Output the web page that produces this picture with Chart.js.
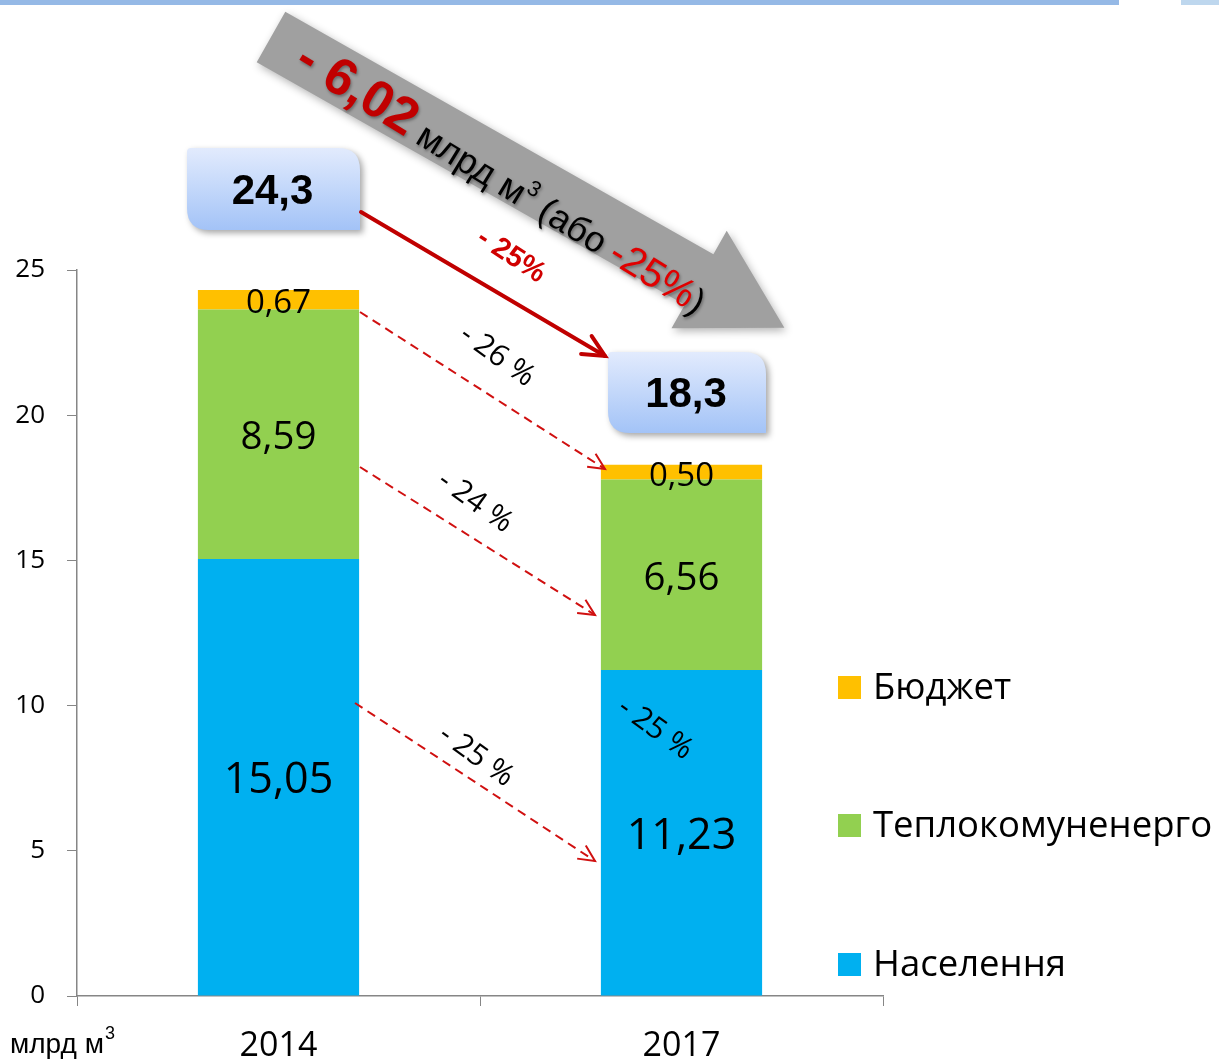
<!DOCTYPE html>
<html lang="uk">
<head>
<meta charset="UTF-8">
<title>Споживання газу</title>
<script src="https://cdn.jsdelivr.net/npm/chart.js"></script>
<style>
    body { margin: 0; background: #fff; }
    #wrap { width: 1219px; height: 1060px; position: relative; }
</style>
</head>
<body>
<div id="wrap"><canvas id="gasChart" width="1219" height="1060"></canvas></div>
<script>
    // data
    const years = ['2014', '2017'];
    const naselennya = [15.05, 11.23];
    const teplo = [8.59, 6.56];
    const budget = [0.67, 0.50];
    const totalLabels = ['24,3', '18,3'];
    const seriesNames = ['Населення', 'Теплокомуненерго', 'Бюджет'];
    const seriesColors = ['#00b0f0', '#92d050', '#ffc000'];

    const FONT = '"Open Sans", sans-serif';
    const SANS = '"Liberation Sans", Arial, sans-serif';
    const RED = '#c00000';

    function fmt(v) {
        return v.toFixed(2).replace('.', ',');
    }

    function arrowHead(ctx, x1, y1, x2, y2, len, spread) {
        const a = Math.atan2(y2 - y1, x2 - x1);
        ctx.beginPath();
        ctx.moveTo(x2 - len * Math.cos(a - spread), y2 - len * Math.sin(a - spread));
        ctx.lineTo(x2, y2);
        ctx.lineTo(x2 - len * Math.cos(a + spread), y2 - len * Math.sin(a + spread));
        ctx.stroke();
    }

    function rotatedText(ctx, text, x, y, angle, font, color) {
        ctx.save();
        ctx.translate(x, y);
        ctx.rotate(angle);
        ctx.font = font;
        ctx.fillStyle = color;
        ctx.textAlign = 'center';
        ctx.textBaseline = 'middle';
        ctx.fillText(text, 0, 0);
        ctx.restore();
    }

    function totalBox(ctx, x, y, w, h, text) {
        const r = 22, s = 4;
        ctx.save();
        ctx.shadowColor = 'rgba(0,0,0,0.35)';
        ctx.shadowBlur = 6;
        ctx.shadowOffsetX = 3;
        ctx.shadowOffsetY = 3;
        const g = ctx.createLinearGradient(0, y, 0, y + h);
        g.addColorStop(0, '#e2ebfd');
        g.addColorStop(1, '#a3c3f7');
        ctx.fillStyle = g;
        ctx.beginPath();
        ctx.moveTo(x + s, y);
        ctx.lineTo(x + w - r, y);
        ctx.quadraticCurveTo(x + w, y, x + w, y + r);
        ctx.lineTo(x + w, y + h);
        ctx.lineTo(x + r, y + h);
        ctx.quadraticCurveTo(x, y + h, x, y + h - r);
        ctx.lineTo(x, y + s);
        ctx.quadraticCurveTo(x, y, x + s, y);
        ctx.closePath();
        ctx.fill();
        ctx.restore();
        ctx.font = 'bold 42px ' + SANS;
        ctx.fillStyle = '#000';
        ctx.textAlign = 'center';
        ctx.textBaseline = 'middle';
        ctx.fillText(text, x + w / 2 - 1, y + h / 2 + 3);
    }

    const decorPlugin = {
        id: 'decor',
        beforeDraw(chart) {
            const ctx = chart.ctx;
            ctx.save();
            // top band of the slide
            ctx.fillStyle = '#95b9e6';
            ctx.fillRect(0, 0, 1119, 5);
            ctx.fillStyle = '#bed7ee';
            ctx.fillRect(1181, 0, 38, 5);

            // big grey arrow
            ctx.save();
            ctx.translate(271, 37);
            ctx.rotate(Math.atan2(290, 512));
            ctx.shadowColor = 'rgba(0,0,0,0.3)';
            ctx.shadowBlur = 8;
            ctx.shadowOffsetX = 2;
            ctx.shadowOffsetY = 3;
            ctx.fillStyle = '#a0a0a0';
            ctx.beginPath();
            ctx.moveTo(0, -29);
            ctx.lineTo(492, -29);
            ctx.lineTo(492, -56);
            ctx.lineTo(590, 0);
            ctx.lineTo(492, 56);
            ctx.lineTo(492, 29);
            ctx.lineTo(0, 29);
            ctx.closePath();
            ctx.fill();

            ctx.shadowColor = 'rgba(0,0,0,0.35)';
            ctx.shadowBlur = 3;
            ctx.shadowOffsetX = 1;
            ctx.shadowOffsetY = 2;
            ctx.rotate(0.035);
            ctx.textBaseline = 'alphabetic';
            ctx.textAlign = 'left';
            let x = 34;
            const base = 15;
            const parts = [
                ['bold 52px ' + SANS, RED, '- 6,02', 0],
                ['36px ' + SANS, '#000', ' млрд м', 0],
                ['22px ' + SANS, '#000', '3', -16],
                ['36px ' + SANS, '#000', ' (або ', 0],
                ['40px ' + SANS, '#e00000', '-25%', 0],
                ['36px ' + SANS, '#000', ')', 0]
            ];
            parts.forEach(p => {
                ctx.font = p[0];
                ctx.fillStyle = p[1];
                ctx.fillText(p[2], x, base + p[3]);
                x += ctx.measureText(p[2]).width;
            });
            ctx.restore();

            // total boxes
            totalBox(ctx, 187, 148, 173, 82, totalLabels[0]);
            totalBox(ctx, 608, 352, 158, 81, totalLabels[1]);

            // solid red arrow between totals
            ctx.strokeStyle = RED;
            ctx.lineWidth = 4;
            ctx.lineCap = 'round';
            ctx.beginPath();
            ctx.moveTo(361, 212);
            ctx.lineTo(605, 356);
            ctx.stroke();
            arrowHead(ctx, 361, 212, 605, 356, 24, 0.45);
            rotatedText(ctx, '- 25%', 511, 256, 0.58, 'bold 29px ' + SANS, '#d00000');
            ctx.restore();
        },
        afterDatasetsDraw(chart) {
            const ctx = chart.ctx;
            ctx.save();
            // value labels inside segments
            const sizes = [43, 38.5, 33];
            chart.data.datasets.forEach((ds, di) => {
                const meta = chart.getDatasetMeta(di);
                meta.data.forEach((bar, i) => {
                    ctx.font = sizes[di] + 'px ' + FONT;
                    ctx.fillStyle = '#000';
                    ctx.textAlign = 'center';
                    ctx.textBaseline = 'middle';
                    ctx.fillText(fmt(ds.data[i]), bar.x, (bar.y + bar.base) / 2 + 4);
                });
            });

            // dashed change arrows
            ctx.strokeStyle = '#d01010';
            ctx.lineWidth = 2;
            const arrows = [
                [360, 312, 605, 469],
                [360, 467, 595, 615],
                [355, 703, 595, 861]
            ];
            arrows.forEach(a => {
                ctx.setLineDash([9, 6]);
                ctx.beginPath();
                ctx.moveTo(a[0], a[1]);
                ctx.lineTo(a[2], a[3]);
                ctx.stroke();
                ctx.setLineDash([]);
                arrowHead(ctx, a[0], a[1], a[2], a[3], 18, 0.45);
            });
            const pf = '30px ' + FONT;
            rotatedText(ctx, '- 26 %', 497, 356, 0.62, pf, '#000');
            rotatedText(ctx, '- 24 %', 475, 502, 0.62, pf, '#000');
            rotatedText(ctx, '- 25 %', 476, 756, 0.62, pf, '#000');
            rotatedText(ctx, '- 25 %', 655, 729, 0.62, pf, '#000');

            // legend on the right
            const legendY = [965, 826, 688];
            seriesNames.forEach((name, i) => {
                ctx.fillStyle = seriesColors[i];
                ctx.fillRect(838, legendY[i] - 12, 23, 23);
                ctx.font = '36.5px ' + FONT;
                ctx.fillStyle = '#000';
                ctx.textAlign = 'left';
                ctx.textBaseline = 'middle';
                ctx.fillText(name, 873, legendY[i] + 1);
            });

            // unit label
            ctx.font = '28px ' + SANS;
            ctx.textBaseline = 'alphabetic';
            ctx.fillText('млрд м', 10, 1053);
            const w = ctx.measureText('млрд м').width;
            ctx.font = '18px ' + SANS;
            ctx.fillText('3', 10 + w + 1, 1039);
            ctx.restore();
        }
    };

    new Chart(document.getElementById('gasChart'), {
        type: 'bar',
        data: {
            labels: years,
            datasets: [
                { label: seriesNames[0], data: naselennya, backgroundColor: seriesColors[0] },
                { label: seriesNames[1], data: teplo, backgroundColor: seriesColors[1] },
                { label: seriesNames[2], data: budget, backgroundColor: seriesColors[2] }
            ]
        },
        options: {
            responsive: false,
            animation: false,
            devicePixelRatio: 1,
            layout: { padding: { top: 270, right: 336, left: 0, bottom: 0 } },
            datasets: { bar: { barPercentage: 0.4, categoryPercentage: 1 } },
            plugins: { legend: { display: false }, tooltip: { enabled: false } },
            scales: {
                x: {
                    stacked: true,
                    afterFit: s => { s.height = 64; },
                    grid: { offset: true, drawOnChartArea: false, tickLength: 10, color: '#868686' },
                    border: { color: '#868686', width: 1.5 },
                    ticks: { color: '#000', padding: 20, font: { family: '"Open Sans", sans-serif', size: 34 } }
                },
                y: {
                    stacked: true,
                    min: 0,
                    max: 25,
                    afterFit: s => { s.width = 77; },
                    grid: { drawOnChartArea: false, tickLength: 10, color: '#868686' },
                    border: { color: '#868686', width: 1.5 },
                    ticks: { stepSize: 5, color: '#000', padding: 22, font: { family: '"Open Sans", sans-serif', size: 26 } }
                }
            }
        },
        plugins: [decorPlugin]
    });
</script>
</body>
</html>
